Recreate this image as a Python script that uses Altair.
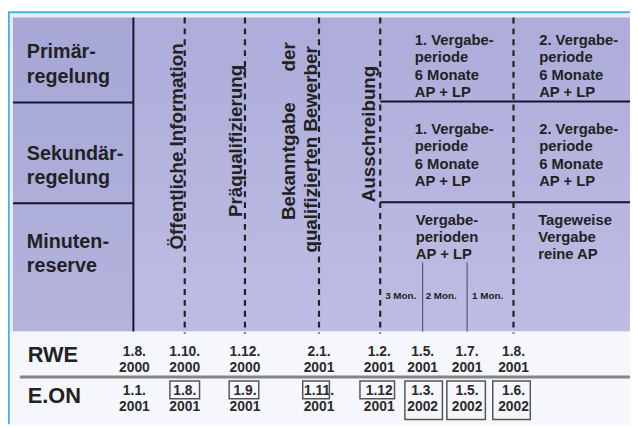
import altair as alt
import pandas as pd

W, H = 630, 419
X0, Y0 = 8, 8
FONT = "Liberation Sans"
INK = "#222222"

# ---------------- data ----------------
# milestone columns (diagram units, left -> right)
col_x = [136, 187, 248, 323, 384, 428, 473, 520]
rwe_dates = ["1.8.\n2000", "1.10.\n2000", "1.12.\n2000", "2.1.\n2001",
             "1.2.\n2001", "1.5.\n2001", "1.7.\n2001", "1.8.\n2001"]
eon_dates = ["1.1.\n2001", "1.8.\n2001", "1.9.\n2001", "1.11.\n2001",
             "1.12\n2001", "1.3.\n2002", "1.5.\n2002", "1.6.\n2002"]
eon_box_w = [0, 30, 30, 27, 35, 38, 39, 38]
eon_box_lines = [0, 1, 1, 1, 1, 2, 2, 2]

companies = ["RWE", "E.ON"]
company_y = [364, 405]
date_row_y = [358, 397]

row_labels = ["Primär-\nregelung", "Sekundär-\nregelung", "Minuten-\nreserve"]
row_label_y = [56, 159, 248]
row_sep_y = [101, 203]
right_sep_y = [100, 202]

dashed_cols = [187, 248, 323, 385, 520]
short_cols = [428, 473]

milestones = ["Öffentliche Information", "Präqualifizierung", "Bekanntgabe",
              "qualifizierten Bewerber", "Ausschreibung"]
milestone_x = [185, 245, 299, 321, 380]
milestone_y = [250, 217, 220, 253, 202]
milestone_top = ["der"]
milestone_top_x = [299]
milestone_top_y = [40]

periods = ["1. Vergabe-\nperiode\n6 Monate\nAP + LP", "2. Vergabe-\nperiode\n6 Monate\nAP + LP",
           "1. Vergabe-\nperiode\n6 Monate\nAP + LP", "2. Vergabe-\nperiode\n6 Monate\nAP + LP",
           "Vergabe-\nperioden\nAP + LP", "Tageweise\nVergabe\nreine AP"]
period_x = [420, 546, 420, 546, 421, 545]
period_y = [43, 43, 133, 133, 225, 225]

months = ["3 Mon.", "2 Mon.", "1 Mon."]
month_x = [390, 431, 478]
month_y = [300, 300, 300]

# ---------------- scales ----------------
xs = alt.Scale(domain=[X0, X0 + W], nice=False, zero=False)
ys = alt.Scale(domain=[Y0, Y0 + H], nice=False, zero=False, reverse=True)


def X(f):
    return alt.X(f"{f}:Q", scale=xs, axis=None)


def Y(f):
    return alt.Y(f"{f}:Q", scale=ys, axis=None)


def grad(c1, c2):
    return alt.Gradient(gradient="linear",
                        stops=[alt.GradientStop(color=c1, offset=0),
                               alt.GradientStop(color=c2, offset=1)],
                        x1=0, x2=0, y1=0, y2=1)


# background blocks
bg = pd.DataFrame({"x": [9, 13, 135, 9], "x2": [638, 135, 638, 638],
                   "y": [10, 15, 15, 333], "y2": [427, 333, 333, 427],
                   "k": ["frame", "left", "main", "bottom"]})
frame_bg = alt.Chart(bg[bg.k == "frame"]).mark_rect(color="#ececf7").encode(
    x=X("x"), x2="x2", y=Y("y"), y2="y2")
left_bg = alt.Chart(bg[bg.k == "left"]).mark_rect(color=grad("#a7a7d6", "#b3b3dd")).encode(
    x=X("x"), x2="x2", y=Y("y"), y2="y2")
main_bg = alt.Chart(bg[bg.k == "main"]).mark_rect(color=grad("#adacda", "#bdbde4")).encode(
    x=X("x"), x2="x2", y=Y("y"), y2="y2")
bottom_bg = alt.Chart(bg[bg.k == "bottom"]).mark_rect(color="#f5f7fc").encode(
    x=X("x"), x2="x2", y=Y("y"), y2="y2")

# cyan frame
frame_lines = pd.DataFrame({"x": [8, 8.8], "x2": [638, 8.8], "y": [9.5, 9], "y2": [9.5, 427]})
frame = alt.Chart(frame_lines).mark_rule(color="#3db6ea", strokeWidth=2).encode(
    x=X("x"), x2="x2", y=Y("y"), y2="y2")

# separators
seps = pd.DataFrame({"x": [13, 13, 385, 385], "x2": [135, 135, 638, 638],
                     "y": row_sep_y + right_sep_y})
sep_rules = alt.Chart(seps).mark_rule(color="#15152e", strokeWidth=2).encode(
    x=X("x"), x2="x2", y=Y("y"))

vline = alt.Chart(pd.DataFrame({"x": [135], "y": [15], "y2": [333]})).mark_rule(
    color="#15152e", strokeWidth=2).encode(x=X("x"), y=Y("y"), y2="y2")

dashes = alt.Chart(pd.DataFrame({"x": dashed_cols, "y": [15] * 5, "y2": [335] * 5})).mark_rule(
    color=INK, strokeWidth=2.2, strokeDash=[6, 5]).encode(x=X("x"), y=Y("y"), y2="y2")

shorts = alt.Chart(pd.DataFrame({"x": short_cols, "y": [263, 263], "y2": [333, 333]})).mark_rule(
    color="#444455", strokeWidth=1).encode(x=X("x"), y=Y("y"), y2="y2")

grey_line = alt.Chart(pd.DataFrame({"x": [20], "x2": [638], "y": [379]})).mark_rule(
    color="#858585", strokeWidth=3).encode(x=X("x"), x2="x2", y=Y("y"))

# texts
rows_df = pd.DataFrame({"t": row_labels, "x": [27] * 3, "y": row_label_y})
row_txt = alt.Chart(rows_df).mark_text(font=FONT, fontSize=20, fontWeight="bold", color=INK,
                                       align="left", baseline="alphabetic", lineBreak="\n",
                                       lineHeight=25).encode(x=X("x"), y=Y("y"), text="t:N")

ms_df = pd.DataFrame({"t": milestones, "x": milestone_x, "y": milestone_y})
ms_txt = alt.Chart(ms_df).mark_text(font=FONT, fontSize=19, fontWeight="bold", color=INK,
                                    align="left", baseline="alphabetic", angle=270).encode(
    x=X("x"), y=Y("y"), text="t:N")
ms_top_df = pd.DataFrame({"t": milestone_top, "x": milestone_top_x, "y": milestone_top_y})
ms_top_txt = alt.Chart(ms_top_df).mark_text(font=FONT, fontSize=19, fontWeight="bold", color=INK,
                                            align="right", baseline="alphabetic", angle=270).encode(
    x=X("x"), y=Y("y"), text="t:N")

per_df = pd.DataFrame({"t": periods, "x": period_x, "y": period_y})
per_txt = alt.Chart(per_df).mark_text(font=FONT, fontSize=15, fontWeight="bold", color=INK,
                                      align="left", baseline="alphabetic", lineBreak="\n",
                                      lineHeight=17.5).encode(x=X("x"), y=Y("y"), text="t:N")

mon_df = pd.DataFrame({"t": months, "x": month_x, "y": month_y})
mon_txt = alt.Chart(mon_df).mark_text(font=FONT, fontSize=10, fontWeight="bold", color=INK,
                                      align="left", baseline="alphabetic").encode(
    x=X("x"), y=Y("y"), text="t:N")

comp_df = pd.DataFrame({"t": companies, "x": [28, 28], "y": company_y})
comp_txt = alt.Chart(comp_df).mark_text(font=FONT, fontSize=22, fontWeight="bold", color=INK,
                                        align="left", baseline="alphabetic").encode(
    x=X("x"), y=Y("y"), text="t:N")

dates_df = pd.DataFrame({"t": rwe_dates + eon_dates, "x": col_x + col_x,
                         "y": [date_row_y[0]] * 8 + [date_row_y[1]] * 8})
date_txt = alt.Chart(dates_df).mark_text(font=FONT, fontSize=14, fontWeight="bold", color="#2a2a2a",
                                         align="center", baseline="alphabetic", lineBreak="\n",
                                         lineHeight=16).encode(x=X("x"), y=Y("y"), text="t:N")

box_rows = []
box_centers = [187, 247, 320, 382, 429, 472, 518]
for c, w, n in zip(box_centers, eon_box_w[1:], eon_box_lines[1:]):
    box_rows.append({"x": c - w / 2, "x2": c + w / 2, "y": 383, "y2": 401 if n == 1 else 422})
boxes = alt.Chart(pd.DataFrame(box_rows)).mark_rect(fillOpacity=0, stroke="#555555",
                                                     strokeWidth=1.5).encode(
    x=X("x"), x2="x2", y=Y("y"), y2="y2")

chart = alt.layer(frame_bg, left_bg, main_bg, bottom_bg, frame, sep_rules, vline, dashes, shorts,
                  grey_line, row_txt, ms_txt, ms_top_txt, per_txt, mon_txt, comp_txt, date_txt,
                  boxes).properties(
    width=W, height=H, padding=0, autosize=alt.AutoSizeParams(type="none"),
    background="#ffffff").configure_view(stroke=None)

chart.save("out.html", embed_options={"renderer": "svg", "actions": False})
